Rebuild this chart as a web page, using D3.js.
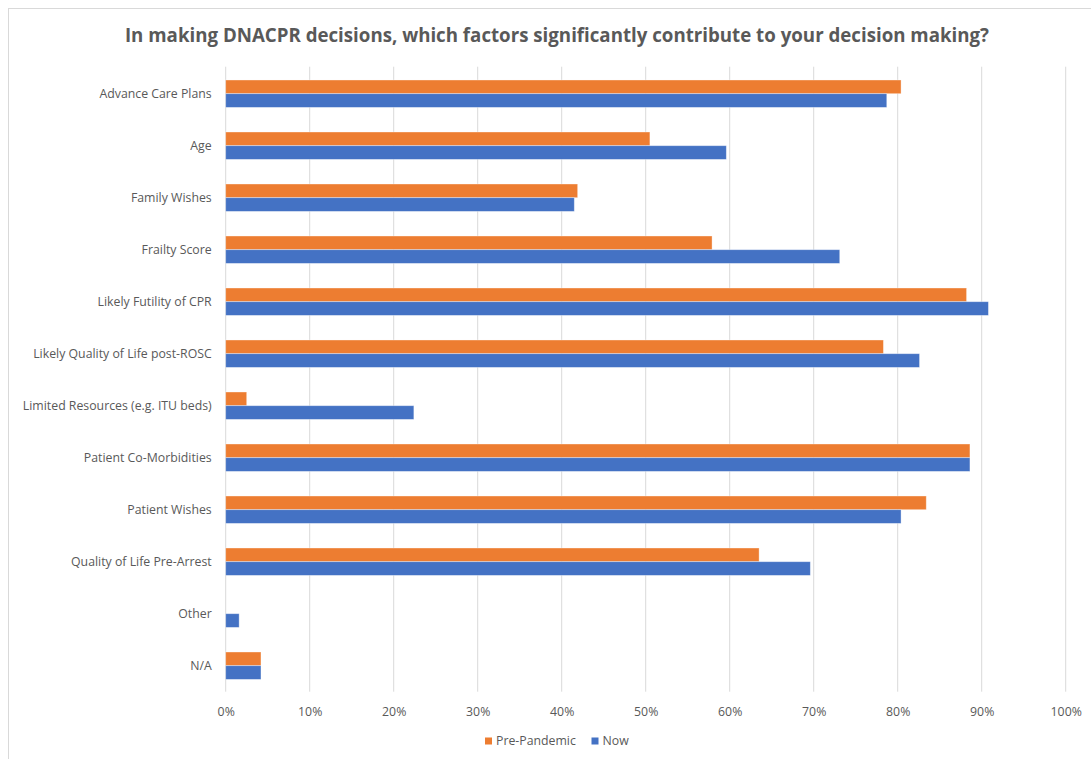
<!DOCTYPE html>
<html>
<head>
<meta charset="utf-8">
<script src="https://cdn.jsdelivr.net/npm/d3@7"></script>
<style>
  body { margin: 0; background: #fff; }
  text { font-family: "Open Sans", sans-serif; fill: #595959; }
</style>
</head>
<body>
<div id="chart"></div>
<script>
"use strict";

var categories = [
    "Advance Care Plans",
    "Age",
    "Family Wishes",
    "Frailty Score",
    "Likely Futility of CPR",
    "Likely Quality of Life post-ROSC",
    "Limited Resources (e.g. ITU beds)",
    "Patient Co-Morbidities",
    "Patient Wishes",
    "Quality of Life Pre-Arrest",
    "Other",
    "N/A"
];
var seriesNames = ["Pre-Pandemic", "Now"];
var prePandemic = [80.4, 50.5, 41.9, 57.9, 88.2, 78.3, 2.5, 88.6, 83.4, 63.5, 0, 4.2];
var now = [78.7, 59.6, 41.5, 73.1, 90.8, 82.6, 22.4, 88.6, 80.4, 69.6, 1.6, 4.2];
var xTicks = [0, 10, 20, 30, 40, 50, 60, 70, 80, 90, 100];
var colors = ["#ED7D31", "#4472C4"];
var title = "In making DNACPR decisions, which factors significantly contribute to your decision making?";

var width = 1091, height = 759;
var margin = {top: 67.7, right: 25.3, bottom: 67.3, left: 225.7};

var rows = categories.map(function(c, i) {
    return {category: c, values: [prePandemic[i], now[i]]};
});

var svg = d3.select("#chart").append("svg")
    .attr("width", width)
    .attr("height", height);

svg.append("rect")
    .attr("x", 8.5).attr("y", 8.5)
    .attr("width", width + 20).attr("height", height + 20)
    .attr("fill", "#fff")
    .attr("stroke", "#d9d9d9");

svg.append("text")
    .attr("x", 557).attr("y", 41.5)
    .attr("text-anchor", "middle")
    .style("font-size", "18.7px")
    .style("font-weight", "bold")
    .text(title);

var x = d3.scaleLinear()
    .domain([0, 100])
    .range([margin.left, width - margin.right]);

var y = d3.scaleBand()
    .domain(categories)
    .range([margin.top, height - margin.bottom])
    .paddingInner(0.473)
    .paddingOuter(0.2365);

var ySub = d3.scaleBand()
    .domain(seriesNames)
    .range([0, y.bandwidth()]);

// gridlines
svg.append("g")
    .selectAll("line")
    .data(xTicks)
    .enter().append("line")
    .attr("x1", function(d) { return x(d); })
    .attr("x2", function(d) { return x(d); })
    .attr("y1", margin.top - 1)
    .attr("y2", height - margin.bottom)
    .attr("stroke", "#d9d9d9")
    .attr("stroke-width", 1);

// bars
var group = svg.append("g")
    .selectAll("g")
    .data(rows)
    .enter().append("g")
    .attr("transform", function(d) { return "translate(0," + y(d.category) + ")"; });

group.selectAll("rect")
    .data(function(d) {
        return d.values.map(function(v, i) { return {name: seriesNames[i], value: v, i: i}; });
    })
    .enter().append("rect")
    .filter(function(d) { return d.value > 0; })
    .attr("x", x(0))
    .attr("y", function(d) { return ySub(d.name); })
    .attr("width", function(d) { return x(d.value) - x(0); })
    .attr("height", ySub.bandwidth())
    .attr("fill", function(d) { return colors[d.i]; })
    .attr("stroke", "#ffffff")
    .attr("stroke-opacity", 0.45)
    .attr("stroke-width", 0.8);

// category labels
var yAxis = svg.append("g")
    .attr("transform", "translate(" + margin.left + ",0)")
    .call(d3.axisLeft(y).tickSize(0).tickPadding(14));
yAxis.select(".domain").remove();
yAxis.selectAll("text")
    .style("font-size", "12.3px")
    .attr("fill", "#595959");

// value axis
var xAxis = svg.append("g")
    .attr("transform", "translate(0," + (height - margin.bottom) + ")")
    .call(d3.axisBottom(x).tickValues(xTicks).tickSize(0).tickPadding(16)
        .tickFormat(function(d) { return d + "%"; }));
xAxis.select(".domain").remove();
xAxis.selectAll("text")
    .style("font-size", "12.3px")
    .attr("fill", "#595959");

// legend
var legendX = [485, 591.5];
var legend = svg.append("g")
    .selectAll("g")
    .data(seriesNames)
    .enter().append("g")
    .attr("transform", function(d, i) { return "translate(" + legendX[i] + ",741)"; });

legend.append("rect")
    .attr("x", 0).attr("y", -3.5)
    .attr("width", 7).attr("height", 7)
    .attr("fill", function(d, i) { return colors[i]; });

legend.append("text")
    .attr("x", 11)
    .attr("dy", "0.35em")
    .style("font-size", "12.3px")
    .text(function(d) { return d; });
</script>
</body>
</html>
